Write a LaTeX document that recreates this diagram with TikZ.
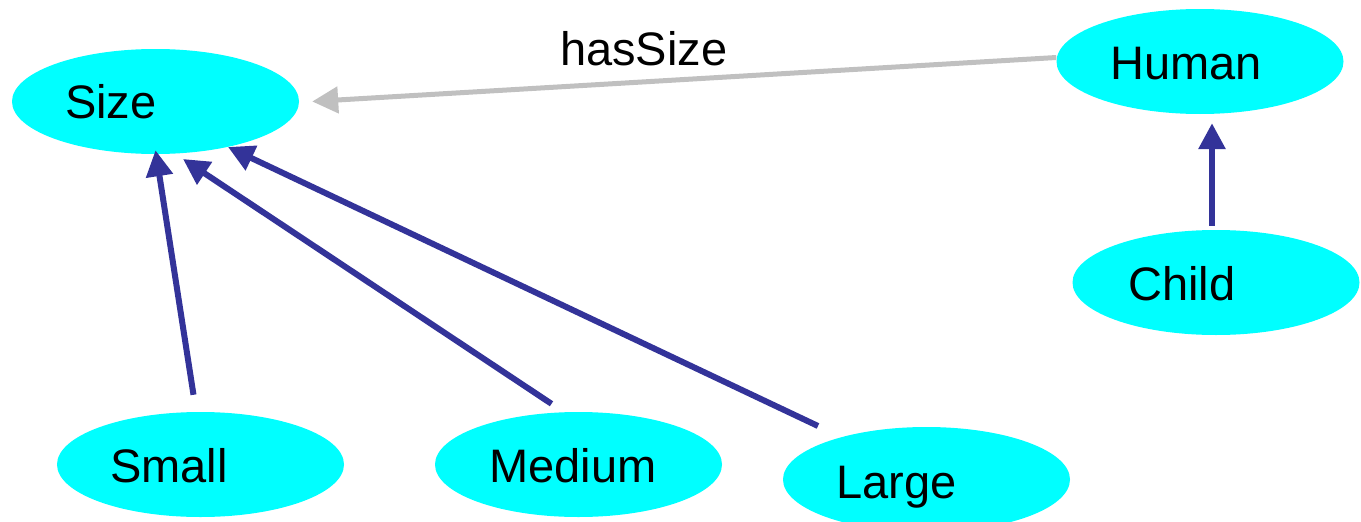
\documentclass[tikz,border=0pt]{standalone}
\usepackage{fontspec}
\setmainfont{Liberation Sans}
\usetikzlibrary{arrows.meta,shapes.geometric,calc}
\definecolor{nodecyan}{HTML}{00FFFF}
\definecolor{isablue}{HTML}{333399}
\definecolor{relgray}{HTML}{C0C0C0}
\begin{document}
\begin{tikzpicture}[x=1pt,y=-1pt,
  ell/.style={ellipse,fill=nodecyan,draw=none,minimum width=287pt,minimum height=105pt,inner sep=0pt},
  lbl/.style={anchor=base west,inner sep=0pt,font=\fontsize{47}{50}\selectfont},
  isa/.style={draw=isablue,line width=6pt,-{Triangle[length=26pt,width=26pt]}},
  rel/.style={draw=relgray,line width=5pt,-{Triangle[length=26pt,width=26pt]}}]
\useasboundingbox (0,0) rectangle (1361,522);
\clip (0,0) rectangle (1361,522);
% nodes
\node[ell] (size) at (155.5,101.5) {};
\node[ell] (human) at (1200,61.5) {};
\node[ell] (child) at (1216,282.5) {};
\node[ell] (small) at (200.5,464.5) {};
\node[ell] (medium) at (578.5,464.5) {};
\node[ell] (large) at (926.5,479.5) {};
% labels
\node[lbl] (tsize) at (65,118) {Size};
\node[lbl] (thuman) at (1110,79) {Human};
\node[lbl] (tchild) at (1128,300) {Child};
\node[lbl] (tsmall) at (110,482) {Small};
\node[lbl] (tmedium) at (489,482) {Medium};
\node[lbl] (tlarge) at (836,498) {Large};
\node[lbl] (lhas) at (560,65) {hasSize};
% connector ends
\coordinate (cA) at ([shift={(-4,-4)}]child.north);
\coordinate (hA) at ([shift={(12,9)}]human.south);
\coordinate (sA) at ([shift={(-7,-17)}]small.north);
\coordinate (zA) at ([shift={(0,-4)}]size.south);
\coordinate (mA) at ([shift={(-27,-8)}]medium.north);
\coordinate (zB) at (183,159);
\coordinate (lA) at (818,426);
\coordinate (zC) at (228,147);
\coordinate (hB) at ([shift={(0,-4)}]human.west);
\coordinate (zD) at ([shift={(13,0)}]size.east);
% connectors
\draw[isa] (cA) -- (hA);
\draw[isa] (sA) -- (zA);
\draw[isa] (mA) -- (zB);
\draw[isa] (lA) -- (zC);
\draw[rel] (hB) -- (zD);
\end{tikzpicture}
\end{document}
